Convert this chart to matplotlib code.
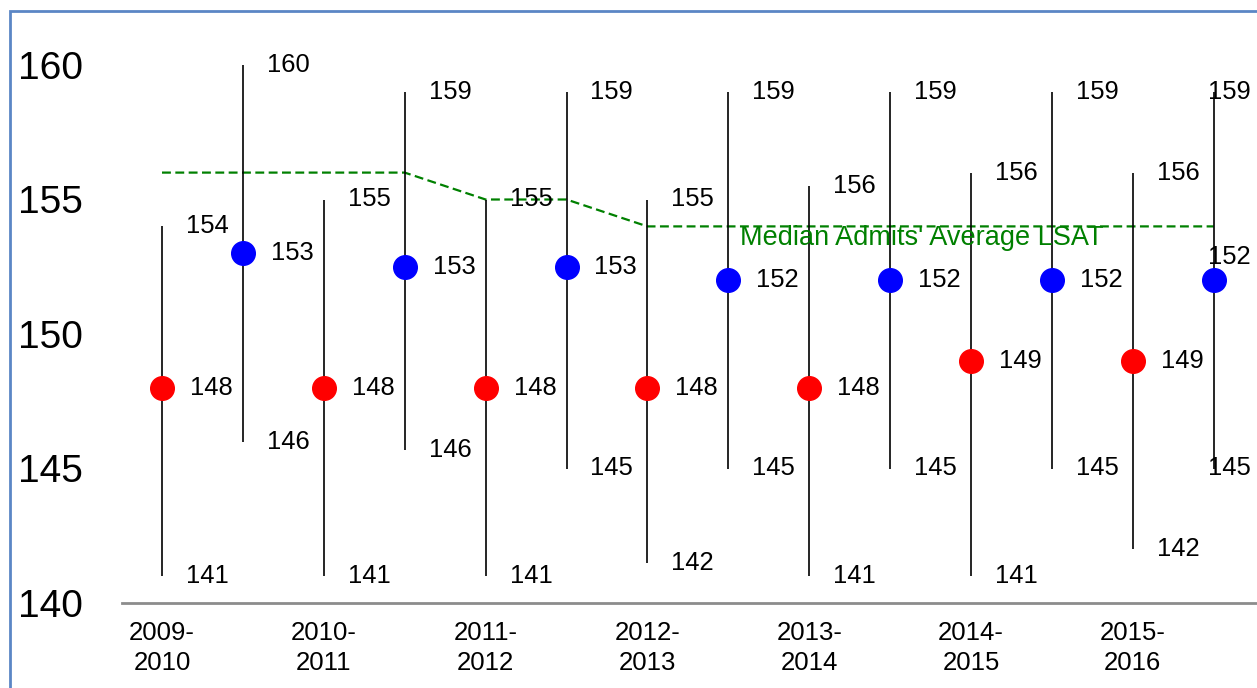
import math
import matplotlib
matplotlib.use("Agg")
import matplotlib.pyplot as plt
from matplotlib.patches import Rectangle

# ---------------- data ----------------
years = ["2009-\n2010", "2010-\n2011", "2011-\n2012", "2012-\n2013",
         "2013-\n2014", "2014-\n2015", "2015-\n2016"]

# red series (plotted at category centre)
red_mid = [148, 148, 148, 148, 148, 149, 149]
red_low = [141, 141, 141, 141.5, 141, 141, 142]
red_high = [154, 155, 155, 155, 155.5, 156, 156]

# blue series (plotted half a category to the right)
blue_mid = [153, 152.5, 152.5, 152, 152, 152, 152]
blue_low = [146, 145.7, 145, 145, 145, 145, 145]
blue_high = [160, 159, 159, 159, 159, 159, 159]

# median admits' average LSAT (every half category)
median_pos = [0, 0.5, 1, 1.5, 2, 2.5, 3, 3.5, 4, 4.5, 5, 5.5, 6, 6.5]
median_val = [156, 156, 156, 156, 155, 155, 154, 154, 154, 154, 154, 154, 154, 154]
median_label = "Median Admits' Average LSAT"

yticks = [140, 145, 150, 155, 160]

# ---------------- figure ----------------
W, H = 1257, 688
fig = plt.figure(figsize=(W / 100, H / 100), dpi=100)
plt.rcParams['font.family'] = ['Liberation Sans', 'DejaVu Sans']

px_x = 161.8   # pixels per category
px_y = 26.9    # pixels per LSAT point
ax_left, ax_right = 122, W
ax_bottom, ax_top = 603, 30
ax = fig.add_axes([ax_left / W, (H - ax_bottom) / H,
                   (ax_right - ax_left) / W, (ax_bottom - ax_top) / H])
ax.set_xlim((ax_left - 162) / px_x, (ax_right - 162) / px_x)
ax.set_ylim(140, 140 + (ax_bottom - ax_top) / px_y)

for s in ['left', 'right', 'top']:
    ax.spines[s].set_visible(False)
ax.spines['bottom'].set_color('#8c8c8c')
ax.spines['bottom'].set_linewidth(2)

ax.set_yticks(yticks)
ax.set_yticklabels([str(v) for v in yticks], fontsize=28)
ax.tick_params(axis='y', length=0, pad=28)
ax.set_xticks(range(len(years)))
ax.set_xticklabels(years, fontsize=18.5, linespacing=1.3)
ax.tick_params(axis='x', length=0, pad=13)

def lab(v):
    return str(int(math.floor(v + 0.5)))

LFS = 18.4

def draw_series(xs, mids, lows, highs, color, last_special=False):
    n = len(xs)
    for i, (x, m, lo, hi) in enumerate(zip(xs, mids, lows, highs)):
        ax.plot([x, x], [lo, hi], color='black', lw=1.2, zorder=2, solid_capstyle='butt')
        ax.plot([x], [m], 'o', color=color, ms=17, mec=color, zorder=3)
        special = last_special and i == n - 1
        dx = -6 if special else 24
        ax.annotate(lab(hi), (x, hi), xytext=(dx, 0), textcoords='offset pixels',
                    ha='left', va='center', fontsize=LFS)
        ax.annotate(lab(lo), (x, lo), xytext=(dx, 0), textcoords='offset pixels',
                    ha='left', va='center', fontsize=LFS)
        if special:
            ax.annotate(lab(m), (x, m), xytext=(-6, 23), textcoords='offset pixels',
                        ha='left', va='center', fontsize=LFS)
        else:
            ax.annotate(lab(m), (x, m), xytext=(28, 0), textcoords='offset pixels',
                        ha='left', va='center', fontsize=LFS)

red_x = list(range(len(years)))
blue_x = [i + 0.5 for i in range(len(years))]

ax.plot(median_pos, median_val, color='#008000', lw=1.6, ls=(0, (4, 2)), zorder=1)
ax.annotate(median_label, (median_pos[7], median_val[7]), xytext=(12, -12),
            textcoords='offset pixels', ha='left', va='center',
            fontsize=19.5, color='#008000')

draw_series(red_x, red_mid, red_low, red_high, '#ff0000')
draw_series(blue_x, blue_mid, blue_low, blue_high, '#0000ff', last_special=True)

# outer border (only top and left visible)
fig.patches.append(Rectangle((10 / W, -0.1), 1.2, (H - 11) / H + 0.1,
                             transform=fig.transFigure, fill=False,
                             edgecolor='#5b86c5', lw=2))

fig.savefig("out.png", dpi=100)
